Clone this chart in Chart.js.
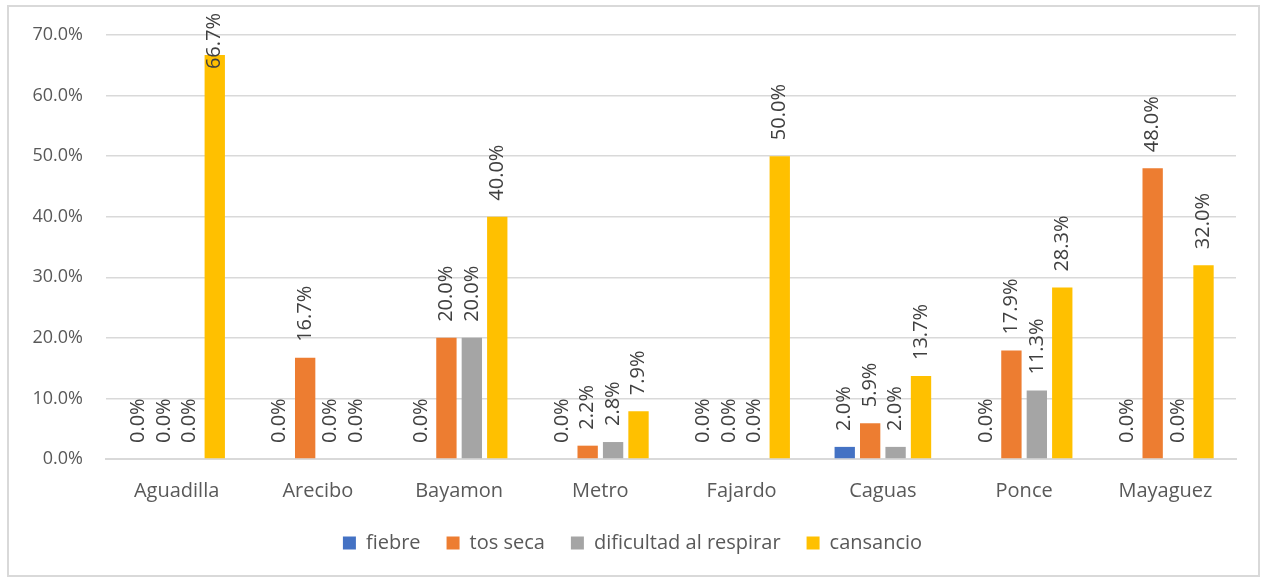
<!DOCTYPE html>
<html lang="es">
<head>
<meta charset="UTF-8">
<script src="https://cdn.jsdelivr.net/npm/chart.js"></script>
<title>Síntomas por región</title>
<style>
  body { margin: 0; background: #fff; overflow: hidden; }
  .marco {
    position: absolute; left: 7px; top: 5px;
    width: 1253px; height: 572px;
    box-sizing: border-box; border: 2px solid #d9d9d9;
  }
  .lienzo { position: absolute; left: 0; top: 0; width: 1265px; height: 579px; }
</style>
</head>
<body>
<div class="marco"></div>
<div class="lienzo"><canvas id="grafico"></canvas></div>
<script>
  const regiones = ['Aguadilla', 'Arecibo', 'Bayamon', 'Metro', 'Fajardo', 'Caguas', 'Ponce', 'Mayaguez'];
  const fiebre = [0, 0, 0, 0, 0, 2.0, 0, 0];
  const tosSeca = [0, 16.7, 20.0, 2.2, 0, 5.9, 17.9, 48.0];
  const dificultad = [0, 0, 20.0, 2.8, 0, 2.0, 11.3, 0];
  const cansancio = [66.7, 0, 40.0, 7.9, 50.0, 13.7, 28.3, 32.0];

  const fuente = '"Open Sans", sans-serif';

  // etiquetas verticales encima de cada barra
  const etiquetas = {
    id: 'etiquetas',
    afterDatasetsDraw(chart) {
      const ctx = chart.ctx;
      ctx.save();
      ctx.font = '20px ' + fuente;
      ctx.fillStyle = '#404040';
      ctx.textAlign = 'left';
      ctx.textBaseline = 'middle';
      chart.data.datasets.forEach((ds, i) => {
        chart.getDatasetMeta(i).data.forEach((bar, j) => {
          const txt = ds.data[j].toFixed(1) + '%';
          const w = ctx.measureText(txt).width;
          let y = bar.y - 16;
          if (y - w < 13) y = 13 + w; // si no cabe, se mete en la barra
          ctx.save();
          ctx.translate(bar.x, y);
          ctx.rotate(-Math.PI / 2);
          ctx.fillText(txt, 0, 0);
          ctx.restore();
        });
      });
      ctx.restore();
    }
  };

  new Chart(document.getElementById('grafico'), {
    type: 'bar',
    data: {
      labels: regiones,
      datasets: [
        { label: 'fiebre', data: fiebre, backgroundColor: '#4472C4' },
        { label: 'tos seca', data: tosSeca, backgroundColor: '#ED7D31' },
        { label: 'dificultad al respirar', data: dificultad, backgroundColor: '#A5A5A5' },
        { label: 'cansancio', data: cansancio, backgroundColor: '#FFC000' }
      ]
    },
    options: {
      responsive: true,
      maintainAspectRatio: false,
      animation: false,
      categoryPercentage: 0.72,
      barPercentage: 0.8,
      layout: { padding: { top: 35, right: 0, bottom: 16, left: 0 } },
      plugins: {
        tooltip: { enabled: false },
        legend: {
          position: 'bottom',
          labels: {
            boxWidth: 13, boxHeight: 13, padding: 26,
            color: '#595959',
            font: { family: fuente, size: 20 }
          }
        }
      },
      scales: {
        x: {
          grid: { display: false, drawTicks: false },
          border: { color: '#d9d9d9', width: 2 },
          ticks: { color: '#595959', padding: 20, font: { family: fuente, size: 20 } },
          afterFit(s) { s.height = 48; }
        },
        y: {
          min: 0, max: 70,
          grid: { color: '#d9d9d9', lineWidth: 1.5, drawTicks: false },
          border: { display: false },
          ticks: {
            stepSize: 10, padding: 23, color: '#595959',
            font: { family: fuente, size: 18 },
            callback: v => v.toFixed(1) + '%'
          },
          afterFit(s) { s.width = 106; }
        },
        // eje vacío a la derecha, solo para dejar el margen
        margen: {
          type: 'linear', position: 'right',
          grid: { display: false, drawTicks: false },
          border: { display: false },
          ticks: { display: false },
          afterFit(s) { s.width = 29; }
        }
      }
    },
    plugins: [etiquetas]
  });
</script>
</body>
</html>
